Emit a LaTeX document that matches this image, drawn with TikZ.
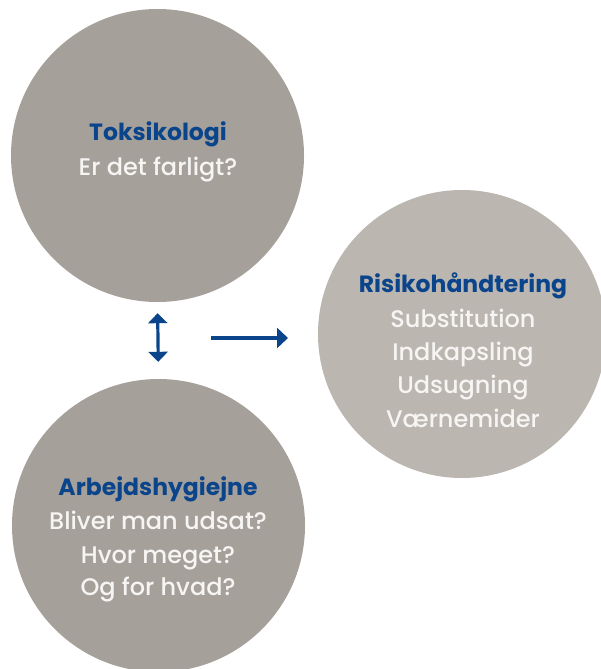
\documentclass[tikz,border=0pt]{standalone}
\usepackage{fontspec}
\setmainfont{Poppins}[UprightFont=* Medium, BoldFont=* Bold]
\usetikzlibrary{arrows.meta}
\definecolor{dkgray}{RGB}{166,160,155}
\definecolor{ltgray}{RGB}{187,182,176}
\definecolor{navy}{RGB}{10,68,138}
\definecolor{offwhite}{RGB}{246,245,243}
\tikzset{
  x=1pt, y=-1pt,
  bubble/.style={circle, inner sep=0pt, draw=none},
  ttl/.style={text=navy, font=\fontsize{23.5}{33}\selectfont\bfseries, anchor=base, inner sep=0pt},
  txt/.style={text=offwhite, font=\fontsize{24}{33}\selectfont, anchor=base, inner sep=0pt},
  conn/.style={draw=navy, line width=3.2pt, -{Triangle[width=20pt,length=11pt]}},
}
\begin{document}
\begin{tikzpicture}
\useasboundingbox (0,0) rectangle (601,669);
\begin{scope}
\clip (0,0) rectangle (601,669);
\node[bubble, fill=dkgray, minimum size=293pt] (tox) at (157.5,155.5) {};
\node[bubble, fill=dkgray, minimum size=293pt] (arb) at (158.5,525.5) {};
\node[bubble, fill=ltgray, minimum size=288pt] (risk) at (462,334) {};
\end{scope}
% texts
\node[ttl] (toxt) at (158,140) {Toksikologi};
\node[txt] (toxs) at (158,175) {Er det farligt?};
\node[ttl] (riskt) at (463,292) {Risikohåndtering};
\node[txt] (risk1) at (463,327) {Substitution};
\node[txt] (risk2) at (463,360) {Indkapsling};
\node[txt] (risk3) at (463,393) {Udsugning};
\node[txt] (risk4) at (463,427) {Værnemider};
\node[ttl] (arbt) at (158,495) {Arbejdshygiejne};
\node[txt] (arb1) at (158,529) {Bliver man udsat?};
\node[txt] (arb2) at (158,563) {Hvor meget?};
\node[txt] (arb3) at (158,595) {Og for hvad?};
% connectors
\draw[conn, {Triangle[width=19pt,length=10pt]}-{Triangle[width=19pt,length=10pt]}, shorten <=11pt, shorten >=17pt] (tox.south) -- (arb.north);
\coordinate (hs) at (211,338);
\coordinate (he) at (318,338);
\draw[conn, shorten >=30pt] (hs) -- (he);
\end{tikzpicture}
\end{document}
